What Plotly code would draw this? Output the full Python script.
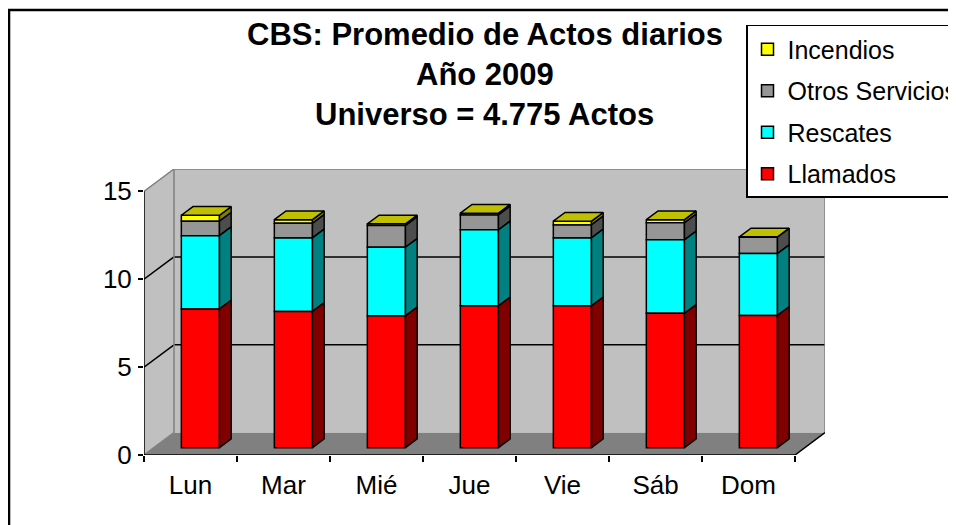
import plotly.graph_objects as go

# ---------------- data ----------------
dias = ["Lun", "Mar", "Mié", "Jue", "Vie", "Sáb", "Dom"]
llamados = [7.89, 7.75, 7.50, 8.07, 8.07, 7.64, 7.52]
rescates = [4.17, 4.18, 3.90, 4.32, 3.86, 4.18, 3.52]
otros_servicios = [0.82, 0.83, 1.23, 0.85, 0.74, 0.97, 0.93]
incendios = [0.34, 0.21, 0.10, 0.10, 0.21, 0.18, 0.02]
y_ticks = [0, 5, 10, 15]
titulo = ["CBS: Promedio de Actos diarios", "Año 2009", "Universo = 4.775 Actos"]

series = [
    ("Llamados", llamados, "#FF0000", "#800000"),
    ("Rescates", rescates, "#00FFFF", "#008080"),
    ("Otros Servicios", otros_servicios, "#969696", "#4D4D4D"),
    ("Incendios", incendios, "#FFFF00", "#808000"),
]

# ---------------- 3D geometry (axis units) ----------------
N = len(dias)
YMAX = 15
DX, DY = 0.3226, 1.27          # full depth offset of the chart box
F0, F1 = 0.33, 0.72            # bar depth position (fraction of box depth)
W = 0.41                       # bar width
xc = [i + F0 * DX for i in range(N)]
base0 = F0 * DY
dX, dY = (F1 - F0) * DX, (F1 - F0) * DY
XL, XR = -0.5, N - 0.5

fig = go.Figure()

# stacking bases
stack = []
cum = [0.0] * N
for name, vals, col, side in series:
    bases = [base0 + c for c in cum]
    stack.append((name, vals, col, side, bases))
    cum = [c + v for c, v in zip(cum, vals)]

# add top series first so the legend lists Incendios first
for name, vals, col, side, bases in reversed(stack):
    fig.add_trace(go.Bar(
        x=xc, y=vals, base=bases, width=W, name=name, legendgroup=name,
        marker=dict(color=col, line=dict(color="black", width=1.5)),
        hoverinfo="skip",
    ))
    xs, ys = [], []
    for i in range(N):
        xr = xc[i] + W / 2
        y0, y1 = bases[i], bases[i] + vals[i]
        xs += [xr, xr + dX, xr + dX, xr, xr, None]
        ys += [y0, y0 + dY, y1 + dY, y1, y0, None]
    fig.add_trace(go.Scatter(
        x=xs, y=ys, mode="lines", fill="toself", fillcolor=side,
        line=dict(color="black", width=1.5), showlegend=False, hoverinfo="skip",
        legendgroup=name,
    ))

# top faces
xs, ys = [], []
for i in range(N):
    xl, xr = xc[i] - W / 2, xc[i] + W / 2
    yt = base0 + cum[i]
    xs += [xl, xr, xr + dX, xl + dX, xl, None]
    ys += [yt, yt, yt + dY, yt + dY, yt, None]
fig.add_trace(go.Scatter(
    x=xs, y=ys, mode="lines", fill="toself", fillcolor="#C0C000",
    line=dict(color="black", width=1.5), showlegend=False, hoverinfo="skip",
    legendgroup="Incendios",
))

# ---------------- walls, floor, gridlines ----------------
shapes = []
wall = "#C0C0C0"
edge = "#808080"
shapes.append(dict(type="path", layer="below", fillcolor=wall, line=dict(width=0),
                   path=f"M{XL},0 L{XL},{YMAX} L{XL+DX},{YMAX+DY} L{XL+DX},{DY} Z"))
shapes.append(dict(type="rect", layer="below", fillcolor=wall, line=dict(width=0),
                   x0=XL + DX, x1=XR + DX, y0=DY, y1=YMAX + DY))
shapes.append(dict(type="path", layer="below", fillcolor="#808080", line=dict(width=0),
                   path=f"M{XL},0 L{XR},0 L{XR+DX},{DY} L{XL+DX},{DY} Z"))
for v in y_ticks[1:-1]:
    shapes.append(dict(type="line", layer="below", line=dict(color="black", width=1.5),
                       x0=XL + DX, x1=XR + DX, y0=v + DY, y1=v + DY))
    shapes.append(dict(type="line", layer="below", line=dict(color="black", width=1.5),
                       x0=XL, x1=XL + DX, y0=v, y1=v + DY))
for (a, b, c, d) in [(XL, YMAX, XL + DX, YMAX + DY), (XL + DX, YMAX + DY, XR + DX, YMAX + DY),
                     (XL + DX, DY, XL + DX, YMAX + DY), (XR + DX, DY, XR + DX, YMAX + DY),
                     (XL, 0, XL + DX, DY)]:
    shapes.append(dict(type="line", layer="below", line=dict(color=edge, width=1.5),
                       x0=a, y0=b, x1=c, y1=d))
for (a, b, c, d) in [(XL, 0, XL, YMAX), (XL, 0, XR, 0), (XR, 0, XR + DX, DY)]:
    shapes.append(dict(type="line", layer="below", line=dict(color="black", width=1.5),
                       x0=a, y0=b, x1=c, y1=d))
# outer chart border
shapes.append(dict(type="rect", xref="paper", yref="paper", layer="below",
                   x0=-0.1982, x1=1.3, y0=-0.5, y1=1.556,
                   line=dict(color="black", width=2.5), fillcolor="rgba(0,0,0,0)"))

annotations = []
for txt, yp in zip(titulo, [1.472, 1.332, 1.189]):
    annotations.append(dict(text=txt, xref="paper", yref="paper", x=0.5, y=yp,
                            xanchor="center", yanchor="middle", showarrow=False,
                            font=dict(family="Arial, Liberation Sans", size=31,
                                      color="black", weight="bold")))

fig.update_layout(
    width=956, height=525,
    margin=dict(l=136, r=139, t=161, b=78, autoexpand=False),
    paper_bgcolor="white", plot_bgcolor="rgba(0,0,0,0)",
    barmode="overlay",
    font=dict(family="Arial, Liberation Sans", size=26, color="black"),
    shapes=shapes, annotations=annotations,
    showlegend=True,
    legend=dict(x=0.884, y=1.5035, xanchor="left", yanchor="top",
                bordercolor="black", borderwidth=1.5, bgcolor="white",
                font=dict(size=25), traceorder="grouped",
                tracegroupgap=6, itemclick=False),
    xaxis=dict(range=[XL, XR + DX], tickmode="array", tickvals=list(range(N)),
               ticktext=dias, ticks="", showgrid=False, zeroline=False,
               showline=False, ticklabelstandoff=12, fixedrange=True,
               minor=dict(tickmode="array", tickvals=[i - 0.5 for i in range(N + 1)],
                          ticks="outside", ticklen=6, tickwidth=1.5,
                          tickcolor="black", showgrid=False)),
    yaxis=dict(range=[0, YMAX + DY], tickmode="array", tickvals=y_ticks,
               ticks="outside", ticklen=5, tickwidth=1.5, tickcolor="black",
               showgrid=False, zeroline=False, showline=False,
               ticklabelstandoff=1, fixedrange=True),
)

fig.write_html("out.html")
